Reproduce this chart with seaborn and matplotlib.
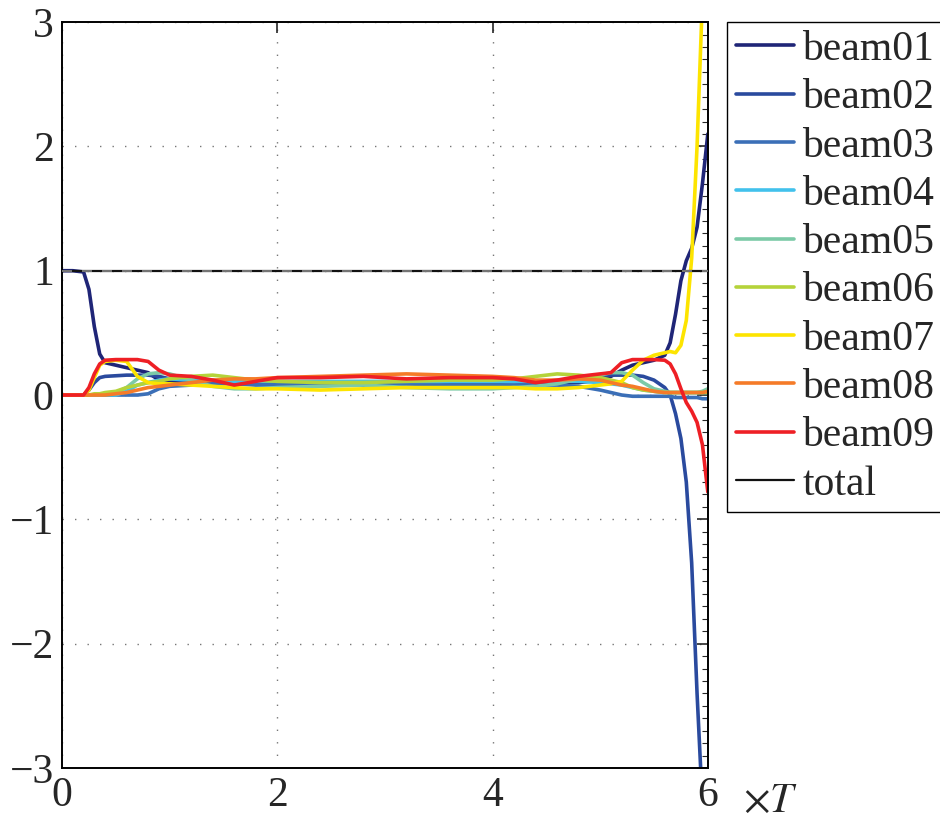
import seaborn as sns
import pandas as pd
import matplotlib.pyplot as plt
from matplotlib.ticker import MultipleLocator

# sample times (in units of T)
t = [0, 0.1, 0.2, 0.25, 0.3, 0.35, 0.4, 0.5, 0.6, 0.7, 0.8, 0.9, 1.0, 1.2, 1.4, 1.6, 1.8, 2.0,
     2.4, 2.8, 3.2, 3.6, 4.0, 4.2, 4.4, 4.6, 4.8, 5.0, 5.1, 5.2, 5.3, 5.4, 5.5, 5.6, 5.65,
     5.7, 5.75, 5.8, 5.85, 5.9, 5.95, 6.0]

beam01 = [1.0, 1.0, 0.99, 0.85, 0.55, 0.33, 0.26, 0.24, 0.22, 0.20, 0.18, 0.12, 0.11, 0.10, 0.10, 0.10, 0.11, 0.10,
          0.09, 0.10, 0.11, 0.10, 0.10, 0.11, 0.11, 0.10, 0.10, 0.12, 0.15, 0.20, 0.24, 0.26, 0.28, 0.32, 0.42,
          0.65, 0.92, 1.08, 1.18, 1.35, 1.70, 2.10]
beam02 = [0, 0, 0.0, 0.04, 0.10, 0.14, 0.15, 0.155, 0.16, 0.16, 0.16, 0.15, 0.13, 0.11, 0.10, 0.10, 0.09, 0.09,
          0.09, 0.08, 0.09, 0.09, 0.08, 0.08, 0.09, 0.10, 0.12, 0.15, 0.16, 0.16, 0.16, 0.15, 0.12, 0.06, 0.0,
          -0.15, -0.35, -0.70, -1.35, -2.4, -3.3, -4.2]
beam03 = [0, 0, 0, 0, 0, 0, 0, 0, 0, 0.0, 0.01, 0.05, 0.07, 0.08, 0.09, 0.09, 0.08, 0.08,
          0.08, 0.08, 0.09, 0.08, 0.08, 0.08, 0.08, 0.08, 0.07, 0.04, 0.02, 0.0, -0.01, -0.01, -0.01, -0.01, -0.01,
          -0.02, -0.02, -0.02, -0.02, -0.02, -0.03, -0.03]
beam04 = [0, 0, 0, 0, 0, 0, 0, 0.0, 0.03, 0.08, 0.10, 0.12, 0.13, 0.12, 0.12, 0.11, 0.11, 0.11,
          0.11, 0.11, 0.11, 0.11, 0.11, 0.11, 0.11, 0.11, 0.11, 0.10, 0.09, 0.08, 0.06, 0.04, 0.03, 0.02, 0.02,
          0.02, 0.02, 0.02, 0.02, 0.02, 0.02, 0.02]
beam05 = [0, 0, 0, 0, 0, 0, 0.01, 0.02, 0.06, 0.13, 0.17, 0.18, 0.17, 0.12, 0.07, 0.05, 0.05, 0.06,
          0.07, 0.08, 0.06, 0.05, 0.05, 0.06, 0.07, 0.09, 0.13, 0.16, 0.18, 0.18, 0.16, 0.10, 0.05, 0.03, 0.02,
          0.02, 0.02, 0.02, 0.02, 0.02, 0.03, 0.05]
beam06 = [0, 0, 0, 0, 0.01, 0.01, 0.02, 0.03, 0.06, 0.08, 0.10, 0.11, 0.13, 0.15, 0.16, 0.14, 0.12, 0.11,
          0.10, 0.10, 0.11, 0.12, 0.12, 0.13, 0.15, 0.17, 0.16, 0.14, 0.12, 0.10, 0.06, 0.04, 0.03, 0.02, 0.02,
          0.02, 0.02, 0.02, 0.02, 0.02, 0.02, 0.02]
beam07 = [0, 0, 0.0, 0.04, 0.14, 0.24, 0.27, 0.28, 0.27, 0.15, 0.10, 0.09, 0.09, 0.08, 0.07, 0.06, 0.05, 0.05,
          0.04, 0.05, 0.06, 0.06, 0.06, 0.06, 0.05, 0.05, 0.06, 0.08, 0.09, 0.11, 0.20, 0.28, 0.32, 0.34, 0.35,
          0.34, 0.40, 0.60, 1.10, 2.00, 3.20, 4.40]
beam08 = [0, 0, 0, 0, 0.0, 0.0, 0.0, 0.01, 0.02, 0.04, 0.06, 0.07, 0.08, 0.10, 0.12, 0.13, 0.13, 0.14,
          0.15, 0.16, 0.17, 0.16, 0.15, 0.14, 0.12, 0.12, 0.13, 0.12, 0.10, 0.08, 0.07, 0.05, 0.03, 0.02, 0.02,
          0.02, 0.02, 0.02, 0.02, 0.02, 0.02, 0.03]
beam09 = [0, 0, 0.0, 0.06, 0.17, 0.25, 0.28, 0.285, 0.285, 0.285, 0.27, 0.20, 0.16, 0.15, 0.12, 0.08, 0.11, 0.14,
          0.14, 0.15, 0.13, 0.14, 0.14, 0.13, 0.10, 0.12, 0.15, 0.17, 0.18, 0.26, 0.285, 0.285, 0.285, 0.28, 0.25,
          0.17, 0.05, -0.06, -0.13, -0.22, -0.40, -0.78]
total = [1.0] * len(t)
reference = [1.0] * len(t)

names = ['beam01', 'beam02', 'beam03', 'beam04', 'beam05', 'beam06', 'beam07', 'beam08', 'beam09', 'total']
series = [beam01, beam02, beam03, beam04, beam05, beam06, beam07, beam08, beam09, total]
colors = ['#1f2577', '#2a4a9e', '#3b6fb7', '#42c1ec', '#7ccaa7', '#b5d33a', '#fde400', '#f57b28', '#ee1f25', '#111111']

rows = []
for name, vals in zip(names, series):
    for x, y in zip(t, vals):
        rows.append({'t': x, 'value': y, 'beam': name})
df = pd.DataFrame(rows)

sns.set_style('white')
plt.rcParams['font.family'] = ['Liberation Serif', 'DejaVu Serif']
plt.rcParams['mathtext.fontset'] = 'stix'

fig = plt.figure(figsize=(9.4, 8.21), dpi=100)
ax = fig.add_axes([0.066, 0.0646, 0.687, 0.9085])

sns.lineplot(data=df[df.beam != 'total'], x='t', y='value', hue='beam', palette=colors[:9],
             estimator=None, sort=False, linewidth=2.6, ax=ax)
sns.lineplot(x=t, y=total, color=colors[9], linewidth=1.6, label='total', ax=ax)
# dashed reference overlay on the total line
ax.plot(t, reference, color='#888888', linewidth=1.2, linestyle=(0, (6, 6)), zorder=5)

ax.set_xlim(0, 6)
ax.set_ylim(-3, 3)
ax.xaxis.set_major_locator(MultipleLocator(2))
ax.yaxis.set_major_locator(MultipleLocator(1))
ax.yaxis.set_minor_locator(MultipleLocator(0.1))
ax.grid(True, which='major', color='#777777', linestyle=(0, (1, 8)), linewidth=1.0)
ax.tick_params(which='both', direction='in', top=True, right=True, labelsize=30, pad=6)
ax.tick_params(which='major', length=8, width=1.2)
ax.tick_params(which='minor', length=4, width=0.8)
for s in ax.spines.values():
    s.set_color('black')
    s.set_linewidth(1.4)
ax.set_xlabel('')
ax.set_ylabel('')
ax.text(1.055, -0.045, r'$\times T$', transform=ax.transAxes, fontsize=30, ha='left', va='center')

handles, labels = ax.get_legend_handles_labels()
for h in handles:
    h.set_linewidth(2.6 if h.get_label() != 'total' else 1.6)
leg = ax.legend(handles, labels, loc='upper left', bbox_to_anchor=(1.03, 1.0), fontsize=30,
                frameon=True, fancybox=False, edgecolor='black', framealpha=1,
                handlelength=1.4, handletextpad=0.2, labelspacing=0.235, borderpad=0.2, borderaxespad=0)
leg.get_frame().set_linewidth(1.0)

plt.savefig('out.png', dpi=100)
